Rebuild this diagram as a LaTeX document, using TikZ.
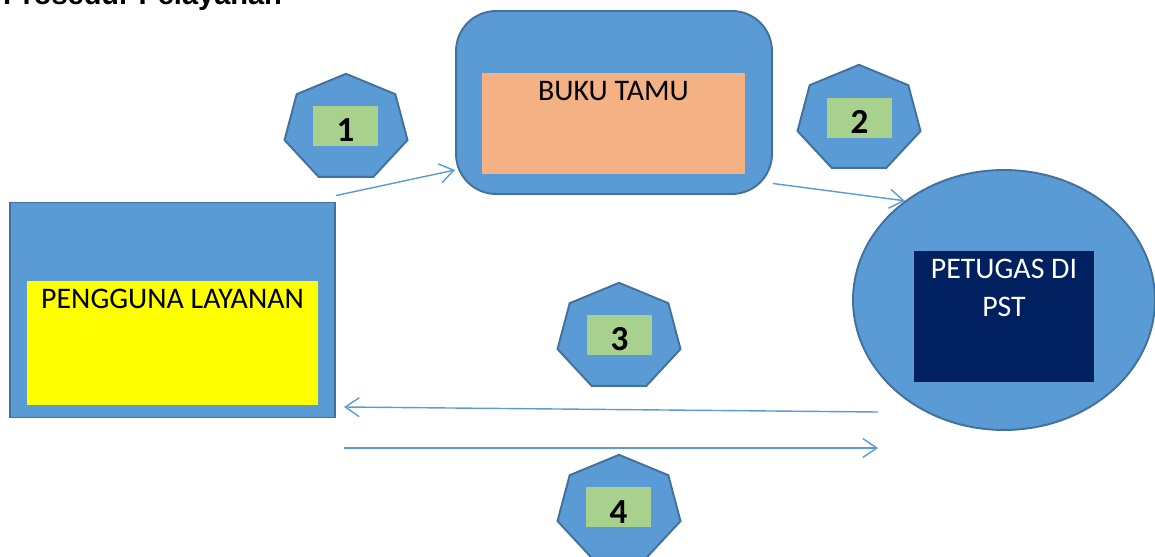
\documentclass[tikz,border=0pt]{standalone}
\usepackage{fontspec}
\setmainfont{Carlito}
\newfontfamily\judulfont{Liberation Sans}
\usetikzlibrary{shapes.geometric, arrows.meta}
\definecolor{biru}{HTML}{5B9BD5}
\definecolor{garis}{HTML}{41719C}
\definecolor{kuning}{HTML}{FFFF00}
\definecolor{salem}{HTML}{F4B183}
\definecolor{birutua}{HTML}{002060}
\definecolor{hijau}{HTML}{A9D18E}
\tikzset{
  kotak/.style={draw=garis, fill=biru, line width=1.1pt, inner sep=0pt},
  isi/.style={inner sep=0pt, font=\fontsize{17}{22}\selectfont},
  angka/.style={fill=hijau, inner sep=0pt, minimum width=1.3cm, minimum height=0.8cm,
    text height=0.72cm, text depth=0.08cm, font=\bfseries\fontsize{20}{24}\selectfont},
  alur/.style={draw=biru, line width=0.8pt, -{Straight Barb[length=0.28cm,width=0.38cm]}},
  pics/tujuh/.style={code={
    \draw[kotak, xscale=1.164] (-90:54.2) \foreach \k in {1,...,6}{ -- ({-90+\k*360/7}:54.2)} -- cycle;
  }}
}
\begin{document}
\begin{tikzpicture}[x=0.02cm, y=-0.02cm]
\clip (0,0) rectangle (1155,557);
\node[anchor=base west, font={\judulfont\bfseries\fontsize{16.5}{20}\selectfont}] (judul) at (-3,5) {Prosedur Pelayanan};

\node[kotak, minimum width=6.5cm, minimum height=4.3cm] (pengguna) at (172.5,310) {};
\node[isi, fill=kuning, minimum width=5.82cm, minimum height=2.5cm, text height=0.56cm, text depth=1.94cm] (teks1) at (172.5,343) {PENGGUNA LAYANAN};

\node[kotak, rounded corners=0.8cm, minimum width=6.32cm, minimum height=3.66cm] (tamu) at (614,102.5) {};
\node[isi, fill=salem, minimum width=5.26cm, minimum height=2.02cm, text height=0.54cm, text depth=1.48cm] (teks2) at (613.5,123.5) {BUKU TAMU};

\node[kotak, ellipse, minimum width=6.04cm, minimum height=5.2cm] (petugas) at (1004,300) {};
\node[isi, fill=birutua, text=white, minimum width=3.6cm, minimum height=2.62cm, text height=0.54cm, text depth=2.08cm] (teks3) at (1004,316.5)
  {\begin{tabular}[t]{@{}c@{}}PETUGAS DI\\PST\end{tabular}};

\pic at (346,128) {tujuh};
\node[angka] (no1) at (345.5,126) {1};
\pic at (859,119) {tujuh};
\node[angka] (no2) at (859.5,118) {2};
\pic at (619,337) {tujuh};
\node[angka] (no3) at (619.5,335) {3};
\pic at (619,509) {tujuh};
\node[angka] (no4) at (618.5,507) {4};

\coordinate (kiri1) at (344,407);
\coordinate (kanan1) at (878,412);
\coordinate (kiri2) at (344,448);
\coordinate (kanan2) at (878,448);
\draw[alur] ([yshift=0.12cm]pengguna.north east) -- (tamu.203.4);
\draw[alur] (tamu.-27.7) -- (petugas.135.6);
\draw[alur] (kanan1) -- (kiri1);
\draw[alur] (kiri2) -- (kanan2);
\end{tikzpicture}
\end{document}
